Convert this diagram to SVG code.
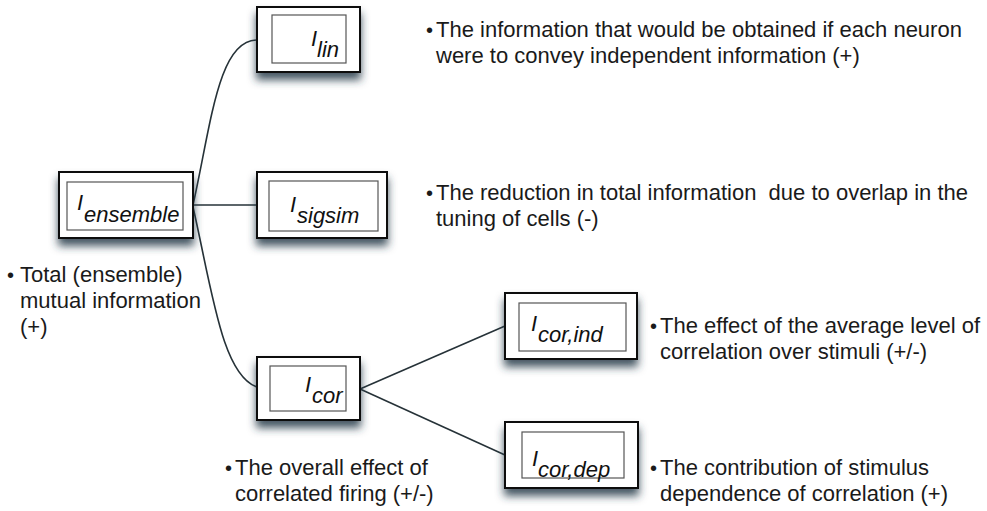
<svg xmlns="http://www.w3.org/2000/svg" width="987" height="511" viewBox="0 0 987 511">
  <defs>
    <filter id="shadow" x="-20%" y="-20%" width="140%" height="170%">
      <feDropShadow dx="0" dy="7" stdDeviation="4.5" flood-color="#263848" flood-opacity="0.85"/>
    </filter>
    <style>
      .outer { fill: #ffffff; stroke: #111111; stroke-width: 2; filter: url(#shadow); }
      .inner { fill: #ffffff; stroke: #555555; stroke-width: 1.2; }
      .lbl { font-family: "Liberation Sans", Arial, sans-serif; font-style: italic; font-size: 22px; fill: #111111; }
      .desc { font-family: "Liberation Sans", Arial, sans-serif; font-size: 22px; fill: #1a1a1a; white-space: pre; }
      .bul { font-size: 20px; }
      .edge { fill: none; stroke: #263238; stroke-width: 1.6; }
    </style>
  </defs>
  <rect width="987" height="511" fill="#ffffff"/>

  <!-- connectors -->
  <g id="connectors">
    <path class="edge" d="M193,205 C211,125 218,40 257,40"/>
    <path class="edge" d="M193,205 L257,205"/>
    <path class="edge" d="M193,207 C212,290 222,375 257,387"/>
    <path class="edge" d="M360,389 L505,326"/>
    <path class="edge" d="M360,389 L505,455"/>
  </g>

  <!-- root: ensemble information -->
  <g id="n-ensemble">
    <rect class="outer" x="59" y="172" width="134" height="66"/>
    <rect class="inner" x="67" y="182" width="116" height="48"/>
    <text class="lbl" x="77" y="210">I</text>
    <text class="lbl" x="84" y="222">ensemble</text>
    <text class="desc"><tspan class="bul" x="7" y="282">•</tspan><tspan x="20" y="282">Total (ensemble)</tspan><tspan x="20" y="308">mutual information</tspan><tspan x="20" y="334">(+)</tspan></text>
  </g>

  <g id="n-lin">
    <rect class="outer" x="257" y="7" width="103" height="65"/>
    <rect class="inner" x="272" y="15" width="74" height="48"/>
    <text class="lbl" x="311" y="46">I</text>
    <text class="lbl" x="317" y="57">lin</text>
    <text class="desc"><tspan class="bul" x="426" y="37">•</tspan><tspan x="436" y="37">The information that would be obtained if each neuron</tspan><tspan x="436" y="63">were to convey independent information (+)</tspan></text>
  </g>

  <g id="n-sigsim">
    <rect class="outer" x="257" y="172" width="130" height="66"/>
    <rect class="inner" x="269" y="181" width="109" height="50"/>
    <text class="lbl" x="290" y="212">I</text>
    <text class="lbl" x="297" y="223">sigsim</text>
    <text class="desc"><tspan class="bul" x="426" y="200">•</tspan><tspan x="436" y="200">The reduction in total information  due to overlap in the</tspan><tspan x="436" y="226">tuning of cells (-)</tspan></text>
  </g>

  <g id="n-cor">
    <rect class="outer" x="257" y="357" width="103" height="63"/>
    <rect class="inner" x="270" y="366" width="76" height="45"/>
    <text class="lbl" x="305" y="392">I</text>
    <text class="lbl" x="312" y="403">cor</text>
    <text class="desc"><tspan class="bul" x="225" y="475">•</tspan><tspan x="235" y="475">The overall effect of</tspan><tspan x="235" y="501">correlated firing (+/-)</tspan></text>
  </g>

  <g id="n-cor-ind">
    <rect class="outer" x="505" y="293" width="132" height="66"/>
    <rect class="inner" x="519" y="303" width="107" height="48"/>
    <text class="lbl" x="531" y="331">I</text>
    <text class="lbl" x="538" y="342">cor,ind</text>
    <text class="desc"><tspan class="bul" x="650" y="333">•</tspan><tspan x="660" y="333">The effect of the average level of</tspan><tspan x="660" y="359">correlation over stimuli (+/-)</tspan></text>
  </g>

  <g id="n-cor-dep">
    <rect class="outer" x="505" y="422" width="133" height="66"/>
    <rect class="inner" x="522" y="432" width="102" height="46"/>
    <text class="lbl" x="532" y="466">I</text>
    <text class="lbl" x="538" y="477">cor,dep</text>
    <text class="desc"><tspan class="bul" x="650" y="475">•</tspan><tspan x="660" y="475">The contribution of stimulus</tspan><tspan x="660" y="501">dependence of correlation (+)</tspan></text>
  </g>
</svg>
